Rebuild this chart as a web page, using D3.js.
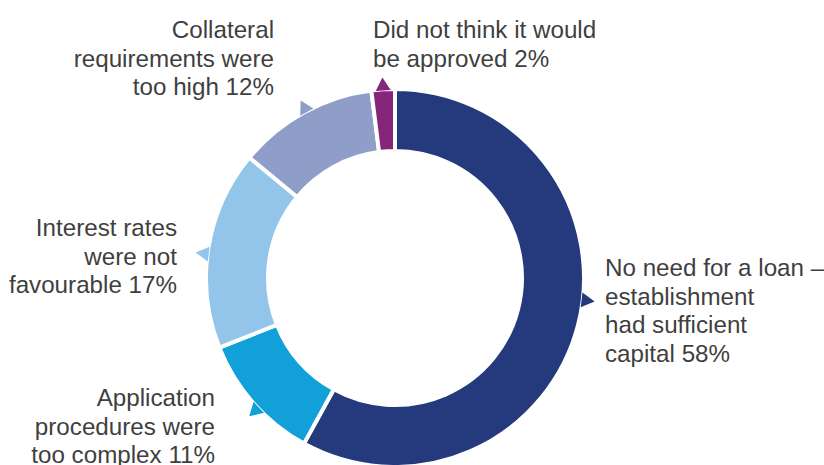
<!DOCTYPE html>
<html>
<head>
<meta charset="utf-8">
<script src="https://cdn.jsdelivr.net/npm/d3@7"></script>
<style>
  html, body { margin: 0; padding: 0; background: #fff; }
  svg { display: block; }
  text { font-family: "Liberation Sans", Arial, sans-serif; fill: #3f3f3f; }
</style>
</head>
<body>
<svg id="chart" width="824" height="465"></svg>
<script>
// Reasons for not applying for a loan (share of establishments, %)
const categories = [
  "No need for a loan – establishment had sufficient capital",
  "Application procedures were too complex",
  "Interest rates were not favourable",
  "Collateral requirements were too high",
  "Did not think it would be approved"
];
const values = [58, 11, 17, 12, 2];
const labelLines = [
  ["No need for a loan –", "establishment", "had sufficient", "capital"],
  ["Application", "procedures were", "too complex"],
  ["Interest rates", "were not", "favourable"],
  ["Collateral", "requirements were", "too high"],
  ["Did not think it would", "be approved"]
];
const colors = ["#243a7d", "#12a0d8", "#93c5ea", "#8f9ec9", "#85267b"];

// Layout
const W = 824, H = 465;
const cx = 395, cy = 278;
const rOuter = 187, rInner = 129, gap = 4;
const fontSize = 24.2, lineH = 28.7;
// angle (degrees, clockwise from 12 o'clock) of each pointer triangle
const pointerAngles = [96.7, 226.5, 277.3, 332, 356.4];
// label block anchors: x, first baseline, text-anchor
const labelAnchors = [
  { x: 605, y: 276, anchor: "start" },
  { x: 215, y: 406, anchor: "end" },
  { x: 177, y: 236, anchor: "end" },
  { x: 274, y: 38, anchor: "end" },
  { x: 373, y: 38, anchor: "start" }
];

const svg = d3.select("#chart");
const g = svg.append("g").attr("transform", `translate(${cx},${cy})`);

const pie = d3.pie().sort(null).value(d => d)(values);
const arc = d3.arc()
  .innerRadius(rInner - gap / 2)
  .outerRadius(rOuter + gap / 2);

// donut slices separated by white gaps
g.selectAll("path.slice")
  .data(pie)
  .join("path")
  .attr("class", "slice")
  .attr("fill", (d, i) => colors[i])
  .attr("stroke", "#fff")
  .attr("stroke-width", gap)
  .attr("stroke-linejoin", "miter")
  .attr("d", arc);

// pointer triangles sitting just outside the ring
const toRad = d => d * Math.PI / 180;
const pt = (a, r) => [r * Math.sin(a), -r * Math.cos(a)];
g.selectAll("path.pointer")
  .data(pointerAngles)
  .join("path")
  .attr("class", "pointer")
  .attr("fill", (d, i) => colors[i])
  .attr("d", d => {
    const a = toRad(d);
    const half = 7.5 / (rOuter + 1);
    const b1 = pt(a - half, rOuter + 1);
    const b2 = pt(a + half, rOuter + 1);
    const tip = pt(a, rOuter + 14);
    return `M${b1}L${tip}L${b2}Z`;
  });

// labels with the value appended to the last line
const labels = svg.selectAll("text.label")
  .data(pie)
  .join("text")
  .attr("class", "label")
  .attr("font-size", fontSize)
  .attr("text-anchor", (d, i) => labelAnchors[i].anchor);

labels.each(function (d, i) {
  const lines = labelLines[i].slice();
  lines[lines.length - 1] += " " + d3.format("d")(d.data) + "%";
  d3.select(this).selectAll("tspan")
    .data(lines)
    .join("tspan")
    .attr("x", labelAnchors[i].x)
    .attr("y", (l, k) => labelAnchors[i].y + k * lineH)
    .text(l => l);
});
</script>
</body>
</html>
